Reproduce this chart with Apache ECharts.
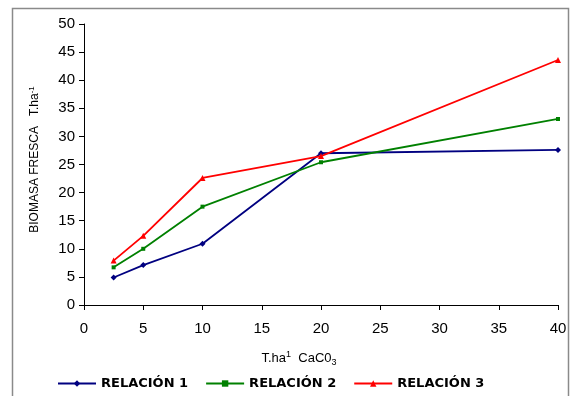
<!DOCTYPE html>
<html>
<head>
<meta charset="utf-8">
<script src="https://cdn.jsdelivr.net/npm/echarts@6/dist/echarts.min.js"></script>
<style>
html,body{margin:0;padding:0;background:#fff;}
#c{width:571px;height:396px;}
</style>
</head>
<body>
<div id="c"></div>
<script>
const xValues = [2.5, 5, 10, 20, 40];
const relacion1 = [4.9, 7.1, 10.9, 27.0, 27.6];
const relacion2 = [6.7, 10.0, 17.5, 25.4, 33.1];
const relacion3 = [7.9, 12.3, 22.6, 26.5, 43.6];
const seriesNames = ['RELACIÓN 1', 'RELACIÓN 2', 'RELACIÓN 3'];

const pair = arr => xValues.map((x, i) => [x, arr[i]]);
const font = '"Liberation Sans", Arial, sans-serif';

const chart = echarts.init(document.getElementById('c'));
chart.setOption({
  animation: false,
  backgroundColor: '#fff',
  graphic: [{
    type: 'rect',
    shape: { x: 12.5, y: 8.5, width: 556, height: 400 },
    style: { fill: 'none', stroke: '#8a8a8a', lineWidth: 1.5 },
    silent: true
  }],
  grid: { left: 84, right: 13, top: 24, bottom: 91 },
  legend: {
    top: 372,
    left: 52,
    itemWidth: 38,
    itemHeight: 8,
    itemGap: 17,
    textStyle: { fontFamily: '"DejaVu Sans", sans-serif', fontSize: 13, fontWeight: 'bold', color: '#000' },
    data: seriesNames
  },
  xAxis: {
    type: 'value',
    min: 0, max: 40, interval: 5,
    name: '{a|T.ha}{s|1}{a|  CaC0}{b|3}',
    nameLocation: 'middle',
    nameGap: 45,
    nameTextStyle: {
      padding: [0, 44, 0, 0],
      rich: {
        a: { fontFamily: font, fontSize: 13, color: '#000' },
        s: { fontFamily: font, fontSize: 9, color: '#000', verticalAlign: 'top', padding: [0, 0, 6, 0] },
        b: { fontFamily: font, fontSize: 9, color: '#000', padding: [8, 0, 0, 0] }
      }
    },
    axisLine: { show: true, lineStyle: { color: '#000', width: 1 } },
    axisTick: { show: true, inside: false, length: 5, lineStyle: { color: '#000' } },
    axisLabel: { fontFamily: font, fontSize: 15, color: '#000', margin: 16 },
    splitLine: { show: false }
  },
  yAxis: {
    type: 'value',
    min: 0, max: 50, interval: 5,
    name: '{a|BIOMASA FRESCA   T.ha}{s|-1}',
    nameLocation: 'middle',
    nameGap: 42,
    nameRotate: 90,
    nameTextStyle: {
      padding: [0, 0, 0, 10],
      rich: {
        a: { fontFamily: font, fontSize: 12, color: '#000' },
        s: { fontFamily: font, fontSize: 8, color: '#000', padding: [0, 0, 6, 0] }
      }
    },
    axisLine: { show: true, lineStyle: { color: '#000', width: 1 } },
    axisTick: { show: true, inside: false, length: 5, lineStyle: { color: '#000' } },
    axisLabel: { fontFamily: font, fontSize: 15, color: '#000', margin: 9 },
    splitLine: { show: false }
  },
  series: [
    {
      name: seriesNames[0], type: 'line', data: pair(relacion1),
      symbol: 'diamond', symbolSize: 6, showAllSymbol: true,
      itemStyle: { color: '#000080' }, lineStyle: { color: '#000080', width: 1.8 }
    },
    {
      name: seriesNames[1], type: 'line', data: pair(relacion2),
      symbol: 'rect', symbolSize: 4, showAllSymbol: true,
      itemStyle: { color: '#008000' }, lineStyle: { color: '#008000', width: 1.8 }
    },
    {
      name: seriesNames[2], type: 'line', data: pair(relacion3),
      symbol: 'triangle', symbolSize: 6, showAllSymbol: true,
      itemStyle: { color: '#ff0000' }, lineStyle: { color: '#ff0000', width: 1.8 }
    }
  ]
});
</script>
</body>
</html>
